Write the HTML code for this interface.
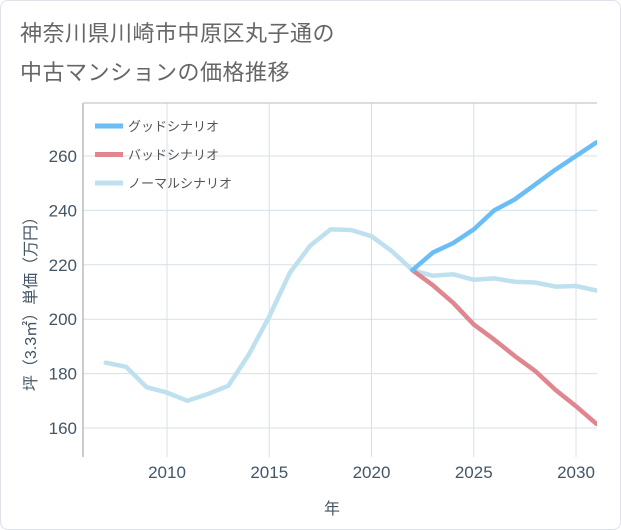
<!DOCTYPE html>
<html><head><meta charset="utf-8"><style>
body{margin:0;background:#fff;font-family:"Liberation Sans","Noto Sans CJK JP",sans-serif;}
#card{position:absolute;left:0;top:0;width:619px;height:528px;border:1px solid #dde3e8;border-radius:8px;background:#fff;}
.t{position:absolute;left:19px;font-size:22px;color:#666;letter-spacing:0.5px;}
</style></head><body>
<div id="card">
<div class="t" style="top:15px">神奈川県川崎市中原区丸子通の</div>
<div class="t" style="top:54px">中古マンションの価格推移</div>
</div>
<svg id="c" width="621" height="530" style="position:absolute;left:0;top:0"></svg>
<script>
const years=[2007,2008,2009,2010,2011,2012,2013,2014,2015,2016,2017,2018,2019,2020,2021,2022,2023,2024,2025,2026,2027,2028,2029,2030,2031];
const normal=[184,182.5,175,173,170,172.5,175.5,187,201,217,227,233,232.8,230.5,225,218,216,216.5,214.5,215,213.8,213.5,212,212.2,210.5];
const goodYears=[2022,2023,2024,2025,2026,2027,2028,2029,2030,2031];
const good=[218,224.5,228,233,240,244,249.5,255,260,265];
const bad=[218,212.5,206,198,192.5,186.5,181,174,168,161.5];
const xTicks=[2010,2015,2020,2025,2030];
const yTicks=[160,180,200,220,240,260];
const L=83,R=597,T=103,B=457;
const x=v=>167+(v-2010)*20.45;
const y=v=>428-(v-160)*2.72;
const s=document.getElementById('c');const NS='http://www.w3.org/2000/svg';
function mk(t,a,p){const e=document.createElementNS(NS,t);for(const k in a)e.setAttribute(k,a[k]);(p||s).appendChild(e);return e;}
xTicks.forEach(v=>{const l=mk('line',{x1:x(v),x2:x(v),y1:T,y2:B,stroke:'#d5e0e8'});

const t=mk('text',{x:x(v),y:478,'text-anchor':'middle','font-size':17,fill:'#445566'});t.textContent=v;
});
yTicks.forEach(v=>{const l=mk('line',{x1:L,x2:R,y1:y(v),y2:y(v),stroke:'#d5e0e8'});

const t=mk('text',{x:77,y:y(v)+6,'text-anchor':'end','font-size':17,fill:'#445566'});t.textContent=v;
});
const ax=mk('path',{d:`M${L},${B}V${T}`,stroke:'#999',fill:'none'});

const ax2=mk('path',{d:`M${L},${T}H${R}`,stroke:'#bbb',fill:'none'});

function line(xs,vs,c,n){const d=vs.map((v,i)=>(i?'L':'M')+x(xs[i]).toFixed(1)+','+y(v).toFixed(1)).join('');
const p=mk('path',{d,stroke:c,'stroke-width':4.5,fill:'none','stroke-linejoin':'round','stroke-linecap':'round','clip-path':'url(#cp)'});
}
const defs=mk('defs',{});const cp=mk('clipPath',{id:'cp'},defs);mk('rect',{x:L,y:T,width:R-L,height:B-T},cp);
line(years,normal,'#bfe0ee','normal-scenario-line');
line(goodYears,bad,'#e0868e','bad-scenario-line');
line(goodYears,good,'#6bbdf5','good-scenario-line');
const leg=[['グッドシナリオ','#6bbdf5'],['バッドシナリオ','#e0868e'],['ノーマルシナリオ','#bfe0ee']];
leg.forEach((e,i)=>{const yy=126+i*28.5;const l=mk('line',{x1:95,x2:123,y1:yy,y2:yy,stroke:e[1],'stroke-width':5});

const t=mk('text',{x:128,y:yy+5,'font-size':13,fill:'#555'});t.textContent=e[0];
});
const yt=mk('text',{x:0,y:0,transform:'translate(36,300) rotate(-90)','text-anchor':'middle','font-size':16,fill:'#445566'});yt.textContent='坪（3.3㎡）単価（万円）';

const xt=mk('text',{x:332,y:514,'text-anchor':'middle','font-size':16,fill:'#445566'});xt.textContent='年';

</script>
</body></html>
